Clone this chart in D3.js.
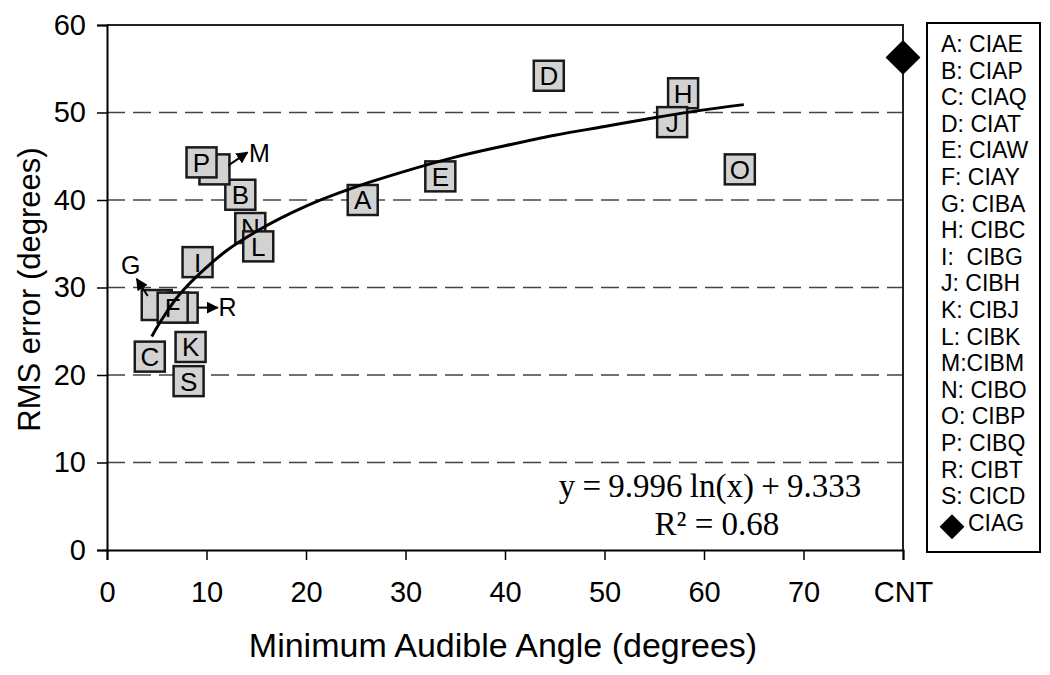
<!DOCTYPE html>
<html>
<head>
<meta charset="utf-8">
<script src="https://cdn.jsdelivr.net/npm/d3@7"></script>
<style>
  body { margin: 0; background: #fff; }
  text { font-family: "Liberation Sans", Arial, sans-serif; fill: #000; }
  .serif { font-family: "Liberation Serif", "Times New Roman", serif; }
</style>
</head>
<body>
<div id="chart"></div>
<script>
// subjects: letter, minimum audible angle (x), RMS error (y); listed in drawing order
const letters = ['A', 'B', 'C', 'D', 'E', 'G', 'R', 'F', 'H', 'J', 'I', 'K', 'N', 'L', 'M', 'P', 'O', 'S'];
const maaValues = [25.7, 13.4, 4.3, 44.4, 33.5, 5.0, 7.6, 6.6, 57.9, 56.8, 9.1, 8.4, 14.4, 15.2, 10.8, 9.5, 63.6, 8.2];
const rmsValues = [40.0, 40.6, 22.1, 54.2, 42.7, 28.0, 27.7, 27.7, 52.2, 48.9, 32.9, 23.2, 36.8, 34.7, 43.5, 44.3, 43.5, 19.3];

// subject who could not be tested (CNT)
const cntLabel = 'CIAG';
const cntRms = 56.3;

// logarithmic trend line
const trendX = [4.5, 5, 6, 7, 8, 10, 12, 15, 20, 25, 30, 35, 40, 45, 50, 55, 60, 64];
const trendY = [24.4, 25.4, 27.2, 28.8, 30.1, 32.3, 34.2, 36.4, 39.3, 41.5, 43.3, 44.9, 46.2, 47.4, 48.4, 49.4, 50.3, 50.9];
const trendEquation = 'y = 9.996 ln(x) + 9.333';
const trendR2 = 'R² = 0.68';

const xTicks = [0, 10, 20, 30, 40, 50, 60, 70, 80];
const xTickLabels = ['0', '10', '20', '30', '40', '50', '60', '70', 'CNT'];
const yTicks = [0, 10, 20, 30, 40, 50, 60];
const gridValues = [10, 20, 30, 40, 50];

const legendLabels = ['A: CIAE', 'B: CIAP', 'C: CIAQ', 'D: CIAT', 'E: CIAW', 'F: CIAY', 'G: CIBA',
  'H: CIBC', 'I:  CIBG', 'J: CIBH', 'K: CIBJ', 'L: CIBK', 'M:CIBM', 'N: CIBO', 'O: CIBP',
  'P: CIBQ', 'R: CIBT', 'S: CICD'];

// overlapped markers get an arrow pointing out to their letter
const callouts = [
  { letter: 'G', from: [-9, -9], to: [-20, -26], label: [-26, -40] },
  { letter: 'M', from: [14, -4], to: [33, -17], label: [45, -16] },
  { letter: 'R', from: [15, 0], to: [35, 0], label: [45, -1] },
];

const width = 1050;
const height = 675;
const plot = { left: 107, right: 903, top: 25, bottom: 550 };
const sansFont = '"Liberation Sans", Arial, sans-serif';

const svg = d3.select('#chart')
  .append('svg')
  .attr('width', width)
  .attr('height', height);

svg.append('rect').attr('width', width).attr('height', height).attr('fill', '#fff');

const defs = svg.append('defs');
defs.append('marker')
  .attr('id', 'arrow')
  .attr('viewBox', '0 0 10 10')
  .attr('refX', 9)
  .attr('refY', 5)
  .attr('markerWidth', 6)
  .attr('markerHeight', 6)
  .attr('orient', 'auto')
  .append('path')
  .attr('d', 'M0,0L10,5L0,10Z')
  .attr('fill', '#000');

const xScale = d3.scaleLinear().domain([0, 80]).range([plot.left, plot.right]);
const yScale = d3.scaleLinear().domain([0, 60]).range([plot.bottom, plot.top]);

// dashed gridlines
svg.append('g')
  .selectAll('line')
  .data(gridValues)
  .enter()
  .append('line')
  .attr('x1', plot.left)
  .attr('x2', plot.right)
  .attr('y1', (d) => yScale(d))
  .attr('y2', (d) => yScale(d))
  .attr('stroke', '#444')
  .attr('stroke-width', 1.6)
  .attr('stroke-dasharray', '18,8');

// frame (top and right)
svg.append('path')
  .attr('d', `M${plot.left},${plot.top}H${plot.right}V${plot.bottom}`)
  .attr('fill', 'none')
  .attr('stroke', '#222')
  .attr('stroke-width', 2);

// y axis
const yAxis = d3.axisLeft(yScale).tickValues(yTicks).tickSize(10).tickPadding(11);
const gy = svg.append('g')
  .attr('transform', `translate(${plot.left},0)`)
  .call(yAxis);
gy.select('.domain').attr('stroke', '#000').attr('stroke-width', 2);
gy.selectAll('.tick line').attr('stroke', '#000').attr('stroke-width', 1.5);
gy.selectAll('.tick text').attr('font-size', 29).attr('font-family', sansFont);

// x axis
const xAxis = d3.axisBottom(xScale)
  .tickValues(xTicks)
  .tickFormat((d, i) => xTickLabels[i])
  .tickSize(10)
  .tickPadding(21);
const gx = svg.append('g')
  .attr('transform', `translate(0,${plot.bottom})`)
  .call(xAxis);
gx.select('.domain').attr('stroke', '#000').attr('stroke-width', 2);
gx.selectAll('.tick line').attr('stroke', '#000').attr('stroke-width', 1.5);
gx.selectAll('.tick text').attr('font-size', 29).attr('font-family', sansFont);

// axis titles
svg.append('text')
  .attr('x', 503)
  .attr('y', 657)
  .attr('text-anchor', 'middle')
  .attr('font-size', 34)
  .text('Minimum Audible Angle (degrees)');

svg.append('text')
  .attr('transform', `translate(40,${(plot.top + plot.bottom) / 2 + 2}) rotate(-90)`)
  .attr('text-anchor', 'middle')
  .attr('font-size', 31)
  .text('RMS error (degrees)');

// data markers: grey squares with letters
const points = letters.map((l, i) => ({ letter: l, x: maaValues[i], y: rmsValues[i] }));
const size = 30;

const marks = svg.append('g')
  .selectAll('g')
  .data(points)
  .enter()
  .append('g')
  .attr('transform', (d) => `translate(${xScale(d.x)},${yScale(d.y)})`);

marks.append('rect')
  .attr('x', -size / 2)
  .attr('y', -size / 2)
  .attr('width', size)
  .attr('height', size)
  .attr('fill', '#d2d2d2')
  .attr('stroke', '#1a1a1a')
  .attr('stroke-width', 2.5);

marks.append('text')
  .attr('text-anchor', 'middle')
  .attr('dy', '0.36em')
  .attr('font-size', 26)
  .text((d) => (callouts.some((c) => c.letter === d.letter) ? '' : d.letter));

// callouts
const byLetter = new Map(points.map((p) => [p.letter, p]));
callouts.forEach((c) => {
  const p = byLetter.get(c.letter);
  const cx = xScale(p.x);
  const cy = yScale(p.y);
  svg.append('line')
    .attr('x1', cx + c.from[0])
    .attr('y1', cy + c.from[1])
    .attr('x2', cx + c.to[0])
    .attr('y2', cy + c.to[1])
    .attr('stroke', '#000')
    .attr('stroke-width', 2)
    .attr('marker-end', 'url(#arrow)');
  svg.append('text')
    .attr('x', cx + c.label[0])
    .attr('y', cy + c.label[1])
    .attr('text-anchor', 'middle')
    .attr('dy', '0.36em')
    .attr('font-size', 25)
    .text(c.letter);
});

// trend line
const trend = trendX.map((x, i) => ({ x, y: trendY[i] }));
const line = d3.line()
  .x((d) => xScale(d.x))
  .y((d) => yScale(d.y))
  .curve(d3.curveMonotoneX);

svg.append('path')
  .datum(trend)
  .attr('d', line)
  .attr('fill', 'none')
  .attr('stroke', '#000')
  .attr('stroke-width', 3);

// CNT diamond
svg.append('path')
  .attr('d', d3.symbol(d3.symbolSquare, 610)())
  .attr('transform', `translate(${xScale(80)},${yScale(cntRms)}) rotate(45)`)
  .attr('fill', '#000');

// equation
svg.append('text')
  .attr('class', 'serif')
  .attr('x', 710)
  .attr('y', 497)
  .attr('text-anchor', 'middle')
  .attr('font-size', 33)
  .attr('word-spacing', -1)
  .text(trendEquation);

svg.append('text')
  .attr('class', 'serif')
  .attr('x', 717)
  .attr('y', 535)
  .attr('text-anchor', 'middle')
  .attr('font-size', 33)
  .text(trendR2);

// legend
const legend = svg.append('g');
legend.append('rect')
  .attr('x', 927)
  .attr('y', 23)
  .attr('width', 113)
  .attr('height', 529)
  .attr('fill', '#fff')
  .attr('stroke', '#000')
  .attr('stroke-width', 2);

const rowStep = 26.6;
legend.selectAll('text.entry')
  .data(legendLabels)
  .enter()
  .append('text')
  .attr('class', 'entry')
  .attr('x', 941)
  .attr('y', (d, i) => 44 + i * rowStep)
  .attr('dy', '0.35em')
  .attr('font-size', 23)
  .style('white-space', 'pre')
  .text((d) => d);

const cntRow = 44 + legendLabels.length * rowStep;
legend.append('path')
  .attr('d', d3.symbol(d3.symbolSquare, 310)())
  .attr('transform', `translate(952,${cntRow + 4}) rotate(45)`)
  .attr('fill', '#000');
legend.append('text')
  .attr('x', 968)
  .attr('y', cntRow)
  .attr('dy', '0.35em')
  .attr('font-size', 23)
  .text(cntLabel);
</script>
</body>
</html>
